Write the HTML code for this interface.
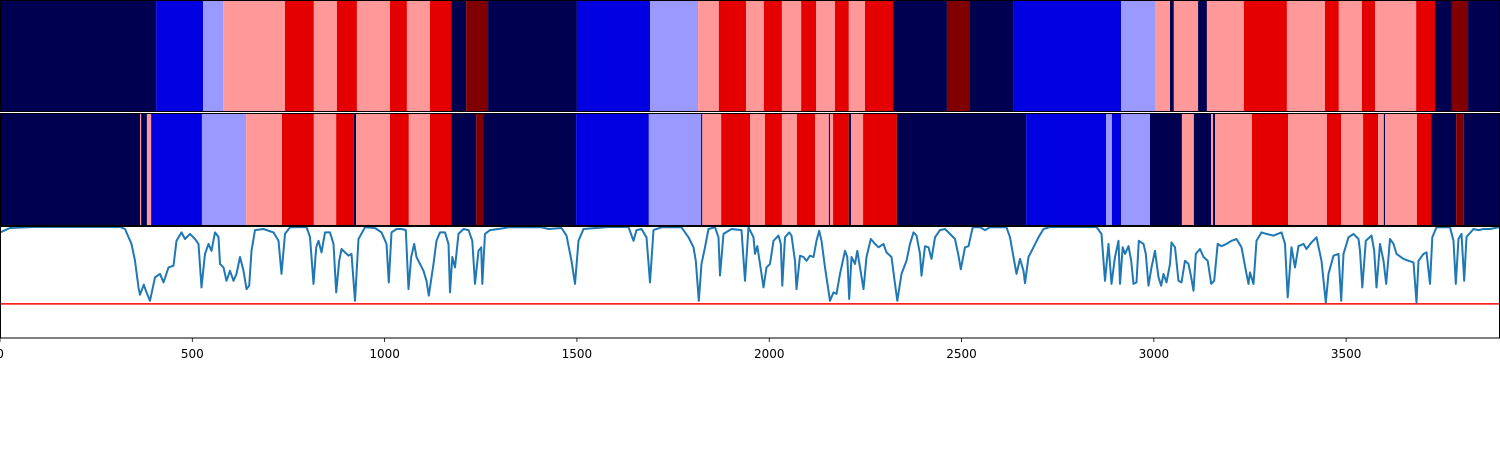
<!DOCTYPE html>
<html><head><meta charset="utf-8"><style>
html,body{margin:0;padding:0;background:#fff;width:1500px;height:450px;overflow:hidden}
svg{display:block}
text{font-family:"DejaVu Sans","Liberation Sans",sans-serif;font-size:12px;fill:#000}
</style></head><body>
<svg id="chart" width="1500" height="450" xmlns="http://www.w3.org/2000/svg">
<g id="row1"></g>
<g id="row2"></g>
<g id="lineplot"></g>
<g id="xaxis"></g>
</svg>
<script>
// state codes: 0 navy,1 blue,2 light blue,3 light red,4 red,5 dark red
const row1Ends=[406,528,580,741,816,876,928,1014,1058,1118,1173,1212,1269,1500,1690,1815,1869,1940,1986,2033,2083,2122,2171,2207,2249,2322,2462,2522,2636,2915,3003,3042,3052,3115,3138,3234,3346,3445,3481,3541,3575,3682,3731,3775,3817,3900];
const row1States=[0,1,2,3,4,3,4,3,4,3,4,0,5,0,1,2,3,4,3,4,3,4,3,4,3,4,0,5,0,1,2,3,0,3,0,3,4,3,4,3,4,3,4,0,5,0];
const row2Ends=[364,367,382,393,525,640,733,816,874,920,926,1014,1063,1118,1173,1238,1256,1498,1687,1823,1826,1875,1950,1989,2033,2072,2119,2155,2158,2166,2207,2213,2244,2332,2668,2876,2891,2915,2990,3073,3104,3149,3154,3159,3255,3349,3450,3487,3544,3583,3598,3601,3684,3721,3786,3806,3900];
const row2States=[0,3,0,3,1,2,3,4,3,4,0,3,4,3,4,0,5,0,1,2,0,3,4,3,4,3,4,3,1,3,4,0,3,4,0,1,2,1,2,0,3,0,3,0,3,4,3,4,3,4,3,0,3,4,0,5,0];
const signalX=[0,26,87,312,325,342,351,360,364,374,381,390,403,416,425,438,451,459,472,481,494,507,516,524,533,542,550,559,568,572,581,589,598,607,615,624,633,641,648,654,663,685,711,724,732,741,754,797,806,815,822,828,836,845,858,867,874,882,888,906,914,923,932,949,975,992,1005,1011,1018,1031,1044,1055,1062,1069,1077,1083,1092,1101,1109,1115,1127,1135,1144,1157,1166,1170,1176,1183,1192,1205,1218,1228,1235,1244,1251,1254,1261,1274,1296,1322,1408,1426,1460,1473,1486,1495,1504,1517,1582,1634,1647,1655,1668,1681,1690,1699,1720,1772,1790,1803,1809,1817,1824,1833,1842,1859,1868,1872,1881,1902,1928,1937,1946,1959,1963,1969,1976,1985,1993,2002,2011,2024,2030,2034,2041,2052,2058,2067,2071,2080,2089,2097,2106,2115,2123,2130,2136,2145,2154,2158,2167,2175,2184,2197,2203,2208,2214,2223,2229,2236,2245,2253,2264,2275,2284,2297,2305,2318,2327,2333,2344,2357,2366,2375,2383,2392,2396,2405,2414,2422,2431,2444,2457,2470,2483,2492,2498,2509,2518,2529,2548,2561,2574,2617,2626,2635,2643,2652,2661,2665,2674,2687,2700,2713,2730,2851,2864,2873,2882,2890,2899,2908,2912,2919,2925,2934,2941,2947,2955,2961,2973,2979,2986,2994,3003,3012,3019,3025,3033,3042,3046,3055,3064,3072,3081,3090,3097,3103,3109,3120,3129,3140,3149,3157,3166,3176,3189,3202,3215,3228,3241,3246,3250,3259,3267,3280,3293,3311,3332,3341,3348,3358,3367,3376,3389,3397,3410,3423,3436,3447,3454,3467,3480,3487,3493,3506,3519,3532,3536,3542,3551,3566,3573,3579,3588,3597,3604,3614,3623,3631,3649,3662,3675,3683,3688,3701,3709,3718,3724,3735,3770,3779,3785,3792,3800,3807,3813,3831,3844,3857,3874,3900];
const signalV=[0.93,0.987,1.0,1.0,0.974,0.78,0.56,0.215,0.12,0.25,0.15,0.04,0.346,0.39,0.28,0.475,0.497,0.82,0.93,0.844,0.91,0.844,0.78,0.215,0.65,0.78,0.69,0.93,0.87,0.52,0.475,0.30,0.43,0.30,0.39,0.61,0.43,0.193,0.237,0.69,0.96,0.974,0.93,0.82,0.39,0.91,0.996,1.0,0.87,0.26,0.736,0.82,0.67,0.93,0.93,0.78,0.15,0.56,0.714,0.627,0.65,0.04,0.844,0.996,0.987,0.93,0.78,0.28,0.93,0.974,0.974,0.96,0.193,0.61,0.78,0.61,0.52,0.43,0.30,0.108,0.52,0.82,0.93,0.93,0.78,0.15,0.61,0.475,0.91,0.974,0.96,0.82,0.26,0.69,0.736,0.26,0.91,0.96,0.974,0.996,0.996,0.974,0.987,0.888,0.56,0.26,0.82,0.974,1.0,1.0,0.82,0.96,0.974,0.866,0.28,0.96,0.996,0.996,0.866,0.736,0.56,0.04,0.52,0.736,0.974,0.996,0.866,0.37,0.91,0.974,0.96,0.30,0.996,0.866,0.65,0.75,0.52,0.215,0.475,0.52,0.82,0.888,0.78,0.237,0.866,0.93,0.888,0.56,0.193,0.627,0.61,0.56,0.627,0.61,0.82,0.95,0.82,0.475,0.17,0.04,0.15,0.13,0.39,0.69,0.61,0.064,0.61,0.52,0.69,0.475,0.193,0.61,0.844,0.78,0.736,0.78,0.67,0.61,0.26,0.04,0.39,0.56,0.78,0.93,0.888,0.65,0.367,0.75,0.736,0.585,0.866,0.96,0.974,0.91,0.844,0.627,0.45,0.736,0.75,0.996,0.996,0.96,0.996,0.996,0.866,0.61,0.39,0.585,0.43,0.27,0.61,0.736,0.866,0.974,1.0,1.0,0.91,0.30,0.78,0.26,0.61,0.82,0.26,0.736,0.65,0.75,0.56,0.26,0.28,0.82,0.78,0.65,0.237,0.475,0.69,0.346,0.237,0.39,0.28,0.52,0.80,0.736,0.30,0.28,0.56,0.52,0.346,0.17,0.65,0.714,0.61,0.56,0.26,0.30,0.78,0.75,0.78,0.82,0.844,0.736,0.39,0.26,0.41,0.26,0.82,0.93,0.91,0.888,0.93,0.78,0.085,0.736,0.475,0.75,0.78,0.714,0.80,0.866,0.56,0.02,0.39,0.627,0.65,0.04,0.65,0.866,0.91,0.844,0.69,0.215,0.82,0.888,0.69,0.215,0.78,0.56,0.26,0.844,0.78,0.65,0.585,0.56,0.54,0.02,0.56,0.65,0.67,0.26,0.866,0.996,0.996,0.82,0.26,0.844,0.91,0.30,0.87,0.974,0.96,0.974,0.974,1.0];
const thresholdValue=[0];
const xTicks=[0,500,1000,1500,2000,2500,3000,3500];
const xTickLabels=['0','500','1000','1500','2000','2500','3000','3500'];

const NS='http://www.w3.org/2000/svg';
const colors=['#000050','#0000e0','#9999ff','#ff9999','#e50000','#800000'];
const X0=0,X1=1500,DMIN=0,DMAX=3900;
function xs(v){return X0+(v-DMIN)/(DMAX-DMIN)*(X1-X0);}
const YTOP=226,YBOT=338,VMIN=-0.443,VMAX=1.013;
function ys(v){return YBOT-(v-VMIN)/(VMAX-VMIN)*(YBOT-YTOP);}
function mk(tag,attrs,parent){const e=document.createElementNS(NS,tag);for(const k in attrs)e.setAttribute(k,attrs[k]);parent.appendChild(e);return e;}

function strip(gid,ends,states,y0,h,nm){
  const g=document.getElementById(gid);
  let start=DMIN;
  for(let i=0;i<ends.length;i++){
    const r=mk('rect',{x:xs(start),y:y0,width:Math.max(0.6,xs(ends[i])-xs(start)),height:h,fill:colors[states[i]]},g);
    
    
    start=ends[i];
  }
  const f=mk('rect',{x:0.5,y:y0+0.5,width:1499,height:h-1,fill:'none',stroke:'#000','stroke-width':1},g);
  
  
}
strip('row1',row1Ends,row1States,0,112,'top-strip');
strip('row2',row2Ends,row2States,113,113,'middle-strip');

const lp=document.getElementById('lineplot');
const th=mk('line',{x1:0,x2:1500,y1:ys(thresholdValue[0]),y2:ys(thresholdValue[0]),stroke:'#ff0000','stroke-width':1.5},lp);


let d='';
for(let i=0;i<signalX.length;i++){d+=(i?'L':'M')+xs(signalX[i]).toFixed(1)+' '+ys(signalV[i]).toFixed(1);}
const p=mk('path',{d:d,fill:'none',stroke:'#1f77b4','stroke-width':2,'stroke-linejoin':'round'},lp);


const fr=mk('rect',{x:0.5,y:226.5,width:1499,height:111.5,fill:'none',stroke:'#000','stroke-width':1},lp);



const xa=document.getElementById('xaxis');
for(let i=0;i<xTicks.length;i++){
  const x=xs(xTicks[i]);
  const t=mk('line',{x1:x,x2:x,y1:338,y2:342,stroke:'#000','stroke-width':0.8},xa);
  
  
  const l=mk('text',{x:x,y:358,'text-anchor':'middle'},xa);
  l.textContent=xTickLabels[i];
  
  
}
</script>
</body></html>
